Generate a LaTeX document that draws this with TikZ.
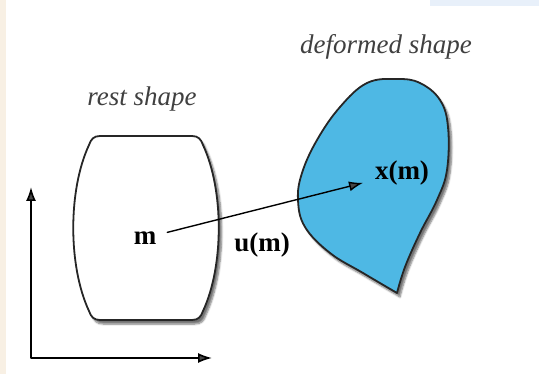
\documentclass[tikz,border=0pt]{standalone}
\usepackage{fontspec}
\setmainfont{Liberation Serif}
\usetikzlibrary{arrows.meta,shadows.blur}

\definecolor{blobblue}{RGB}{78,184,228}
\definecolor{paperbeige}{RGB}{248,240,228}
\definecolor{markblue}{RGB}{232,240,250}

\begin{document}
\begin{tikzpicture}[x=1pt, y=-1pt, line cap=round, line join=round,
    shapeline/.style={line width=1.8pt, draw=black!85},
    softshadow/.style={blur shadow={shadow xshift=3pt, shadow yshift=-4pt,
        shadow blur steps=6, shadow opacity=55}},
    caption/.style={font=\fontsize{27}{30}\selectfont\itshape, text=black!75},
    symbol/.style={font=\fontsize{27}{30}\selectfont\bfseries, inner sep=6pt}]
  \useasboundingbox (0,0) rectangle (539,374);
  % Faint traces of the page behind: a beige edge on the left, a blue band
  % along the top right.
  \fill[paperbeige] (0,0) rectangle (6,374);
  \fill[markblue] (430,0) rectangle (539,6);
  % The undeformed body: flat top and bottom, sides bowed outwards.
  \draw[shapeline, fill=white, softshadow]
    (100,136) -- (192,136) .. controls (198,136) and (201,139) .. (203,145)
    .. controls (224,190) and (224,266) .. (203,311)
    .. controls (201,317) and (198,320) .. (192,320) -- (100,320)
    .. controls (94,320) and (91,317) .. (89,311)
    .. controls (68,266) and (68,190) .. (89,145)
    .. controls (91,139) and (94,136) .. (100,136) -- cycle;
  % The same body after the map, ending in a sharp tip at the bottom.
  \draw[shapeline, fill=blobblue, softshadow]
    plot[smooth, tension=0.65] coordinates {(397,293) (405,267) (420,233)
      (437,200) (447,170) (448,127) (440,100) (420,83) (397,79) (367,83)
      (340,107) (317,140) (302,173) (298,200) (305,227) (330,253)
      (363,273) (397,293)} -- cycle;
  % Captions.
  \node[caption] (restcap) at (142,99) {rest shape};
  \node[caption] (defcap) at (386,47) {deformed shape};
  % The point, its image and the displacement between them.
  \node[symbol] (m) at (145,238) {m};
  \node[symbol] (xm) at (402,173) {x(m)};
  \node[symbol] (um) at (262,245) {u(m)};
  \draw[line width=1.4pt, shorten <=5pt, shorten >=6pt,
    -{Latex[length=14pt, width=10pt]}] (m) -- (xm);
  % Reference frame.
  \coordinate (origin) at (31,358);
  \coordinate (ytip) at (31,187);
  \coordinate (xtip) at (212,358);
  \draw[line width=1.6pt, {Latex[length=14pt, width=10pt]}-{Latex[length=14pt, width=10pt]}]
    (ytip) -- (origin) -- (xtip);
\end{tikzpicture}
\end{document}
